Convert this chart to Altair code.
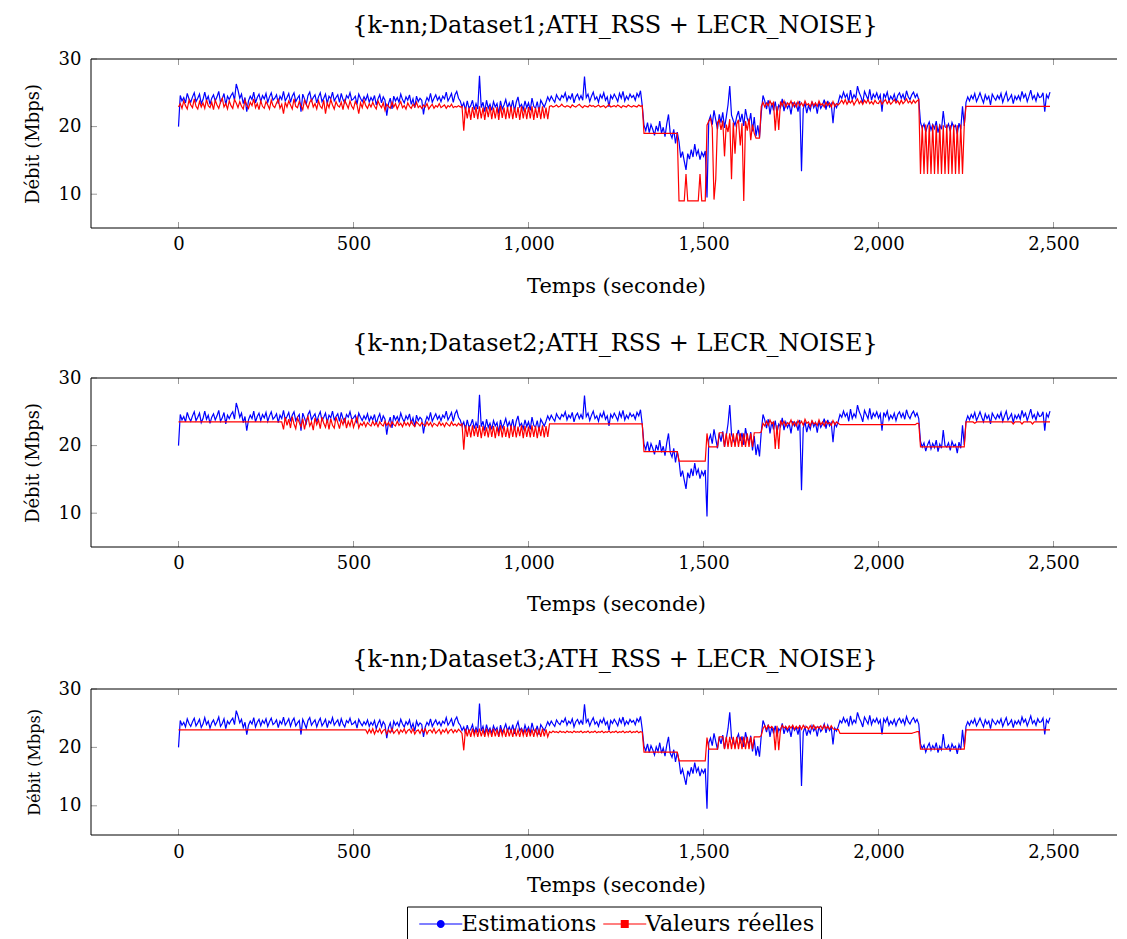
import altair as alt
import pandas as pd

# sampling instants of the series (seconds)
times = list(range(0, 2495, 5))

# estimated throughput (same curve in the three panels)
estimations = [
    20.0, 24.6, 23.8, 24.3, 23.5, 24.9, 24.1, 23.6, 24.4, 25.0,
    23.7, 24.2, 24.8, 23.4, 24.0, 25.1, 23.9, 24.5, 23.3, 24.2,
    24.7, 23.8, 24.4, 25.2, 23.6, 24.1, 24.9, 23.2, 24.5, 24.0,
    24.6, 25.0, 23.9, 26.3, 25.4, 24.2, 24.8, 23.4, 24.3, 22.2,
    23.8, 24.5, 24.0, 25.1, 23.5, 24.3, 24.8, 23.7, 24.6, 24.1,
    24.9, 23.6, 24.4, 25.0, 23.9, 24.2, 24.7, 23.4, 24.5, 24.0,
    25.2, 23.8, 24.3, 24.9, 23.6, 24.5, 25.0, 23.7, 24.2, 24.6,
    22.2, 24.8, 24.1, 23.3, 24.6, 25.1, 23.8, 24.3, 24.7, 23.5,
    24.4, 25.0, 23.7, 24.2, 24.8, 23.4, 24.5, 24.1, 25.1, 23.8,
    24.3, 24.7, 23.6, 24.9, 24.0, 23.5, 24.6, 24.2, 25.0, 23.9,
    24.1, 24.5, 23.3, 24.8, 24.2, 23.7, 24.4, 23.9, 24.7, 23.6,
    24.3, 23.8, 24.6, 23.2, 24.1, 24.7, 23.5, 24.4, 23.9, 21.6,
    23.4, 24.2, 22.6, 24.5, 23.8, 24.3, 23.6, 24.8, 24.0, 23.5,
    24.4, 23.9, 24.7, 23.3, 24.1, 22.8, 24.5, 23.7, 24.2, 23.9,
    21.8, 23.5, 24.3, 23.8, 24.9, 23.6, 24.2, 24.7, 23.9, 24.4,
    23.7, 24.5, 24.1, 25.1, 23.8, 24.3, 24.9, 23.6, 24.7, 25.2,
    24.2, 23.8, 22.9, 23.5, 22.4, 23.8, 22.7, 23.1, 23.9, 22.5,
    23.4, 22.6, 27.5, 22.8, 23.6, 22.2, 23.9, 22.7, 23.3, 22.4,
    23.7, 22.9, 23.4, 21.9, 23.8, 22.6, 23.2, 24.0, 22.8, 23.5,
    22.7, 23.9, 22.3, 23.6, 24.4, 22.9, 23.3, 22.5, 23.8, 22.8,
    23.5, 22.4, 24.2, 23.0, 22.7, 23.7, 22.2, 23.9, 23.4, 22.9,
    23.6, 24.4, 23.8, 24.5, 24.0, 23.6, 24.7, 24.2, 23.9, 24.6,
    24.3, 25.0, 23.8, 24.5, 24.1, 24.9, 23.5, 24.4, 24.8, 24.0,
    24.6, 23.9, 27.4, 24.3, 24.8, 23.7, 24.5, 25.1, 24.0, 24.4,
    23.6, 24.7, 24.2, 25.0, 23.9, 24.4, 22.9, 24.6, 24.1, 24.8,
    24.3, 23.7, 24.9, 24.2, 25.2, 23.8, 24.5, 24.0, 24.8, 24.3,
    24.6, 23.9, 24.9, 24.4, 25.3, 23.1, 20.2, 19.4, 20.6, 19.1,
    20.3, 19.6, 18.7, 20.1, 19.3, 20.8, 19.0, 19.9, 18.5, 20.4,
    21.8, 19.0, 18.3, 19.6, 17.5, 19.2, 17.8, 15.4, 16.3, 14.9,
    13.6, 16.0, 15.2, 16.6, 15.5, 17.4, 15.8, 16.5, 15.1, 16.2,
    15.6, 16.4, 9.5, 20.8, 21.6, 20.3, 22.4, 21.0, 19.6, 21.8,
    20.6, 22.1, 19.8, 21.4, 23.2, 26.0, 21.7, 20.9, 20.2, 21.5,
    22.3, 20.7, 21.9, 20.1, 22.6, 21.2, 20.5, 22.0, 19.3, 21.4,
    18.6, 20.2, 18.4, 22.0, 24.6, 23.8, 22.6, 23.9, 21.8, 23.5,
    22.4, 23.7, 21.9, 23.2, 22.8, 24.1, 22.3, 23.5, 22.7, 23.3,
    21.8, 23.6, 22.9, 23.4, 22.2, 23.8, 13.4, 22.6, 23.5, 22.0,
    23.1, 22.4, 23.7, 22.8, 23.4, 21.9, 23.6, 22.7, 23.2, 24.0,
    22.5, 23.8, 22.9, 23.4, 20.5, 23.3, 22.8, 23.6, 24.6, 24.2,
    25.1, 24.3, 24.8, 23.6, 25.4, 24.0, 24.7, 24.2, 26.0, 25.0,
    24.4, 23.5, 25.2, 24.6, 24.0, 25.5, 23.9, 24.8, 24.3, 25.0,
    24.1, 24.7, 22.2, 24.9, 24.3, 25.1, 23.8, 24.5, 24.0, 24.8,
    23.7, 24.6, 25.0, 24.2, 24.8, 23.9, 25.3, 24.4, 24.0, 24.7,
    25.1, 24.3, 24.8, 24.0, 20.6, 19.8, 20.4, 19.2, 20.1, 20.7,
    19.5, 20.3, 19.7, 20.8, 19.1, 20.2, 19.6, 22.3, 20.0, 19.8,
    20.4, 19.3, 20.6, 19.9, 20.2, 18.9, 20.5, 19.6, 23.0, 20.1,
    23.6, 24.4, 23.8, 24.6, 24.1, 24.9, 23.7, 24.3, 25.0, 24.2,
    23.5, 24.7, 24.0, 24.5, 23.2, 24.8, 24.3, 23.9, 24.6, 24.1,
    24.9, 23.6, 24.4, 25.1, 23.8, 24.2, 24.7, 23.4, 24.5, 24.0,
    24.6, 23.9, 25.2, 24.3, 24.8, 23.7, 24.5, 25.4, 24.1, 24.6,
    23.8, 24.9, 24.3, 24.4, 25.0, 22.2, 24.7, 24.2, 25.1,
]

# real throughput, Dataset1
reelles_d1 = [
    22.9, 23.4, 22.7, 23.8, 23.1, 22.6, 23.9, 23.2, 22.8, 24.1,
    23.0, 22.6, 23.7, 22.9, 23.5, 22.7, 24.0, 23.1, 22.8, 23.6,
    22.5, 23.9, 23.2, 22.7, 23.6, 24.2, 22.9, 23.4, 22.6, 23.8,
    23.1, 22.7, 24.0, 23.5, 22.8, 23.7, 23.0, 22.6, 23.9, 23.2,
    22.7, 23.6, 23.1, 24.1, 22.8, 23.4, 22.5, 23.8, 23.0, 22.7,
    23.7, 23.2, 22.6, 23.9, 23.1, 22.8, 23.5, 24.0, 22.7, 23.3,
    21.9, 23.6, 22.9, 23.8, 23.2, 22.6, 24.1, 23.0, 22.8, 23.7,
    23.1, 22.5, 23.9, 23.3, 22.7, 23.6, 24.0, 22.9, 23.4, 22.6,
    23.8, 23.0, 22.7, 23.9, 21.9, 23.5, 22.8, 24.0, 23.2, 22.6,
    23.7, 23.1, 22.9, 23.6, 22.5, 23.9, 23.3, 22.7, 23.8, 23.0,
    22.6, 23.7, 23.2, 21.9, 23.5, 22.8, 23.9, 23.1, 22.7, 23.4,
    22.9, 23.6, 23.0, 22.6, 23.8, 23.2, 22.8, 23.5, 22.4, 23.3,
    23.0, 22.7, 23.6, 22.9, 23.4, 22.6, 23.2, 23.7, 22.8, 23.1,
    22.6, 23.5, 23.0, 22.7, 23.3, 22.9, 23.6, 22.8, 23.1, 22.7,
    23.2, 22.9, 23.4, 22.6, 23.0, 23.3, 22.7, 23.1, 22.9, 23.4,
    22.8, 23.0, 23.2, 22.7, 23.1, 22.9, 23.3, 22.8, 23.0, 22.9,
    23.1, 22.9, 23.0, 19.4, 22.9, 21.2, 22.8, 21.0, 22.9, 21.3,
    22.9, 21.1, 23.0, 21.2, 22.8, 21.0, 22.9, 21.4, 23.0, 21.1,
    22.8, 21.2, 22.9, 21.0, 23.1, 21.3, 22.8, 21.1, 22.9, 21.2,
    23.0, 21.1, 22.8, 21.3, 22.9, 21.0, 23.0, 21.2, 22.8, 21.1,
    22.9, 21.2, 23.0, 21.0, 22.8, 21.3, 22.9, 21.1, 23.0, 21.2,
    22.8, 21.1, 23.0, 23.1, 22.9, 23.0, 23.2, 22.9, 23.0, 23.3,
    23.0, 22.9, 23.1, 23.0, 22.8, 23.2, 23.0, 22.9, 23.1, 23.3,
    23.0, 22.8, 23.1, 23.0, 22.9, 23.2, 23.0, 23.1, 22.9, 23.0,
    23.2, 22.9, 23.0, 23.1, 22.8, 23.0, 23.3, 22.9, 23.0, 23.1,
    22.9, 23.2, 23.0, 22.8, 23.1, 23.0, 22.9, 23.2, 23.0, 22.9,
    23.1, 23.0, 22.9, 23.2, 23.0, 23.1, 19.0, 19.0, 19.0, 19.0,
    19.0, 19.0, 19.0, 19.0, 19.0, 19.0, 19.0, 19.0, 19.0, 19.0,
    19.0, 19.0, 19.0, 19.0, 19.0, 19.0, 9.0, 9.0, 9.0, 9.0,
    13.0, 9.0, 9.0, 9.0, 9.0, 9.0, 9.0, 9.0, 13.0, 9.0,
    9.0, 9.0, 20.2, 20.8, 21.2, 19.8, 9.2, 12.2, 20.6, 21.0,
    19.5, 20.9, 15.6, 20.3, 19.2, 21.1, 12.2, 20.6, 16.0, 20.4,
    21.0, 17.2, 20.5, 9.0, 20.8, 19.4, 21.2, 18.0, 20.3, 19.0,
    18.3, 18.3, 18.3, 23.0, 23.6, 22.9, 23.5, 23.1, 23.8, 23.2,
    23.6, 19.4, 23.0, 19.5, 23.7, 23.1, 23.8, 22.9, 23.5, 23.2,
    23.8, 23.0, 23.6, 22.9, 23.7, 23.1, 23.5, 23.0, 23.8, 23.2,
    23.4, 22.9, 23.7, 23.1, 23.5, 23.0, 23.8, 23.2, 23.4, 22.9,
    23.6, 23.1, 23.5, 22.9, 23.7, 23.0, 23.4, 23.2, 23.5, 23.9,
    23.4, 24.0, 23.3, 23.8, 23.5, 23.9, 23.2, 23.7, 24.1, 23.4,
    23.8, 23.3, 23.9, 23.5, 24.0, 23.4, 23.7, 23.3, 23.9, 23.5,
    23.4, 23.9, 23.3, 23.7, 24.0, 23.4, 23.8, 23.3, 23.6, 24.0,
    23.5, 23.8, 23.3, 23.9, 23.4, 23.7, 24.1, 23.5, 23.8, 23.4,
    23.9, 23.5, 23.8, 24.0, 13.0, 20.2, 13.0, 20.3, 13.0, 20.2,
    13.0, 20.3, 13.0, 20.2, 13.0, 20.3, 13.0, 20.2, 13.0, 20.3,
    13.0, 20.2, 13.0, 20.3, 13.0, 20.2, 13.0, 20.3, 13.0, 20.2,
    23.0, 23.0, 23.0, 23.0, 23.0, 23.0, 23.0, 23.0, 23.0, 23.0,
    23.0, 23.0, 23.0, 23.0, 23.0, 23.0, 23.0, 23.0, 23.0, 23.0,
    23.0, 23.0, 23.0, 23.0, 23.0, 23.0, 23.0, 23.0, 23.0, 23.0,
    23.0, 23.0, 23.0, 23.0, 23.0, 23.0, 23.0, 23.0, 23.0, 23.0,
    23.0, 23.0, 23.0, 23.0, 23.0, 23.0, 23.0, 23.0, 23.0,
]

# real throughput, Dataset2
reelles_d2 = [
    23.5, 23.5, 23.5, 23.5, 23.5, 23.5, 23.5, 23.5, 23.5, 23.5,
    23.5, 23.5, 23.5, 23.5, 23.5, 23.5, 23.5, 23.5, 23.5, 23.5,
    23.5, 23.5, 23.5, 23.5, 23.5, 23.5, 23.5, 23.5, 23.5, 23.5,
    23.5, 23.5, 23.5, 23.5, 23.5, 23.5, 23.5, 23.5, 23.5, 23.5,
    23.5, 23.5, 23.5, 23.5, 23.5, 23.5, 23.5, 23.5, 23.5, 23.5,
    23.5, 23.5, 23.5, 23.5, 23.5, 23.5, 23.5, 23.5, 23.5, 23.5,
    22.4, 24.2, 23.0, 23.9, 22.6, 24.3, 23.2, 22.5, 24.1, 23.4,
    22.8, 24.0, 22.4, 23.7, 24.3, 22.9, 23.5, 22.3, 24.1, 23.1,
    23.8, 22.5, 24.2, 23.3, 22.7, 23.9, 22.4, 24.0, 23.0, 22.6,
    24.2, 23.4, 22.5, 23.8, 23.1, 24.1, 22.6, 23.6, 22.9, 24.0,
    22.7, 23.5, 24.2, 22.6, 23.3, 23.0, 23.5, 22.8, 23.4, 23.1,
    22.9, 23.6, 23.0, 23.4, 22.8, 23.5, 23.1, 22.9, 23.6, 23.0,
    23.4, 22.8, 23.5, 23.1, 22.9, 23.6, 23.0, 23.3, 22.8, 23.5,
    23.0, 23.4, 22.9, 23.6, 23.1, 22.8, 23.5, 23.2, 22.9, 23.4,
    23.1, 22.9, 23.5, 23.0, 23.4, 22.8, 23.3, 23.1, 22.9, 23.5,
    23.0, 23.3, 22.8, 23.4, 23.1, 22.9, 23.5, 23.0, 23.2, 22.9,
    23.3, 23.0, 23.2, 19.4, 23.0, 21.3, 22.9, 21.2, 23.0, 21.4,
    22.8, 21.3, 23.0, 21.1, 22.9, 21.4, 22.7, 21.2, 23.0, 21.3,
    22.9, 21.1, 22.8, 21.4, 23.0, 21.2, 22.9, 21.3, 22.7, 21.1,
    23.0, 21.3, 22.9, 21.2, 22.8, 21.4, 23.0, 21.1, 22.9, 21.3,
    22.8, 21.2, 23.0, 21.3, 22.9, 21.1, 22.8, 21.4, 23.0, 21.2,
    22.9, 21.3, 23.2, 23.2, 23.2, 23.2, 23.2, 23.2, 23.2, 23.2,
    23.2, 23.2, 23.2, 23.2, 23.2, 23.2, 23.2, 23.2, 23.2, 23.2,
    23.2, 23.2, 23.2, 23.2, 23.2, 23.2, 23.2, 23.2, 23.2, 23.2,
    23.2, 23.2, 23.2, 23.2, 23.2, 23.2, 23.2, 23.2, 23.2, 23.2,
    23.2, 23.2, 23.2, 23.2, 23.2, 23.2, 23.2, 23.2, 23.2, 23.2,
    23.2, 23.2, 23.2, 23.2, 23.2, 23.2, 19.1, 19.1, 19.1, 19.1,
    19.1, 19.1, 19.1, 19.1, 19.1, 19.1, 19.1, 19.1, 19.1, 19.1,
    19.1, 19.1, 19.1, 19.1, 19.1, 19.1, 17.7, 17.7, 17.7, 17.7,
    17.7, 17.7, 17.7, 17.7, 17.7, 17.7, 17.7, 17.7, 17.7, 17.7,
    17.7, 17.7, 21.8, 19.8, 19.8, 19.8, 19.8, 19.8, 19.8, 21.9,
    21.9, 21.9, 19.8, 21.8, 19.8, 21.8, 19.8, 21.8, 19.8, 21.8,
    19.8, 21.8, 19.8, 21.8, 19.8, 21.8, 19.8, 21.8, 19.8, 21.9,
    21.9, 21.9, 21.9, 22.0, 23.3, 22.9, 23.6, 23.0, 23.8, 23.2,
    23.5, 19.5, 23.0, 19.5, 23.7, 23.1, 23.6, 22.9, 23.4, 23.2,
    23.8, 23.0, 23.5, 22.9, 23.7, 23.2, 23.6, 23.0, 23.9, 23.3,
    23.5, 22.9, 23.7, 23.2, 23.4, 23.0, 23.8, 23.1, 23.5, 22.9,
    23.6, 23.2, 23.4, 23.0, 23.7, 23.1, 23.5, 23.3, 23.1, 23.1,
    23.1, 23.1, 23.1, 23.1, 23.1, 23.1, 23.1, 23.1, 23.1, 23.1,
    23.1, 23.1, 23.1, 23.1, 23.1, 23.1, 23.1, 23.1, 23.1, 23.1,
    23.1, 23.1, 23.1, 23.1, 23.1, 23.1, 23.1, 23.1, 23.1, 23.1,
    23.1, 23.1, 23.1, 23.1, 23.1, 23.1, 23.1, 23.1, 23.1, 23.1,
    23.1, 23.1, 23.3, 23.3, 19.8, 19.8, 19.8, 19.8, 19.8, 19.8,
    19.8, 19.8, 19.8, 19.8, 19.8, 19.8, 19.8, 19.8, 19.8, 19.8,
    19.8, 19.8, 19.8, 19.8, 19.8, 19.8, 19.8, 19.8, 19.8, 19.8,
    23.5, 23.5, 23.5, 23.5, 23.5, 23.3, 23.5, 23.5, 23.5, 23.5,
    23.5, 23.5, 23.5, 23.5, 23.5, 23.5, 23.5, 23.5, 23.5, 23.5,
    23.5, 23.5, 23.5, 23.5, 23.5, 23.5, 23.5, 23.2, 23.5, 23.5,
    23.5, 23.5, 23.2, 23.5, 23.5, 23.5, 23.5, 23.5, 23.2, 23.5,
    23.5, 23.5, 23.5, 23.5, 23.5, 23.5, 23.5, 23.5, 23.5,
]

# real throughput, Dataset3
reelles_d3 = [
    23.0, 23.0, 23.0, 23.0, 23.0, 23.0, 23.0, 23.0, 23.0, 23.0,
    23.0, 23.0, 23.0, 23.0, 23.0, 23.0, 23.0, 23.0, 23.0, 23.0,
    23.0, 23.0, 23.0, 23.0, 23.0, 23.0, 23.0, 23.0, 23.0, 23.0,
    23.0, 23.0, 23.0, 23.0, 23.0, 23.0, 23.0, 23.0, 23.0, 23.0,
    23.0, 23.0, 23.0, 23.0, 23.0, 23.0, 23.0, 23.0, 23.0, 23.0,
    23.0, 23.0, 23.0, 23.0, 23.0, 23.0, 23.0, 23.0, 23.0, 23.0,
    23.0, 23.0, 23.0, 23.0, 23.0, 23.0, 23.0, 23.0, 23.0, 23.0,
    23.0, 23.0, 23.0, 23.0, 23.0, 23.0, 23.0, 23.0, 23.0, 23.0,
    23.0, 23.0, 23.0, 23.0, 23.0, 23.0, 23.0, 23.0, 23.0, 23.0,
    23.0, 23.0, 23.0, 23.0, 23.0, 23.0, 23.0, 23.0, 23.0, 23.0,
    23.0, 23.0, 23.0, 23.0, 23.0, 23.0, 23.0, 23.0, 22.4, 23.1,
    22.5, 23.2, 22.3, 23.0, 22.6, 23.2, 22.4, 22.9, 23.1, 22.3,
    23.0, 22.5, 23.2, 22.4, 22.8, 23.1, 22.3, 23.0, 22.6, 23.2,
    22.4, 22.9, 23.1, 22.5, 23.2, 22.3, 22.8, 23.0, 22.4, 23.1,
    22.6, 23.2, 22.3, 22.9, 23.0, 22.5, 23.2, 22.4, 22.8, 23.1,
    22.3, 23.0, 22.6, 23.2, 22.4, 22.9, 23.1, 22.5, 23.0, 22.6,
    23.1, 22.8, 22.4, 19.5, 23.2, 21.9, 23.1, 21.8, 23.2, 22.0,
    23.1, 21.8, 23.2, 21.9, 23.0, 21.8, 23.2, 22.0, 23.1, 21.8,
    23.2, 21.9, 23.1, 21.8, 23.2, 22.0, 23.0, 21.8, 23.2, 21.9,
    23.1, 21.8, 23.2, 21.9, 23.0, 21.8, 23.2, 22.0, 23.1, 21.8,
    23.2, 21.9, 23.1, 21.8, 23.2, 22.0, 23.0, 21.8, 23.2, 21.9,
    23.1, 21.8, 22.7, 22.5, 22.8, 22.6, 22.7, 22.5, 22.8, 22.6,
    22.7, 22.5, 22.8, 22.6, 22.7, 22.5, 22.8, 22.6, 22.7, 22.6,
    22.8, 22.5, 22.7, 22.6, 22.8, 22.5, 22.7, 22.6, 22.8, 22.5,
    22.7, 22.6, 22.8, 22.5, 22.7, 22.6, 22.8, 22.5, 22.7, 22.6,
    22.8, 22.5, 22.7, 22.6, 22.8, 22.5, 22.7, 22.6, 22.8, 22.5,
    22.7, 22.6, 22.8, 22.5, 22.7, 22.6, 19.2, 19.2, 19.2, 19.2,
    19.2, 19.2, 19.2, 19.2, 19.2, 19.2, 19.2, 19.2, 19.2, 19.2,
    19.2, 19.2, 19.2, 19.2, 19.2, 19.2, 17.7, 17.7, 17.7, 17.7,
    17.7, 17.7, 17.7, 17.7, 17.7, 17.7, 17.7, 17.7, 17.7, 17.7,
    17.7, 17.7, 21.7, 19.7, 19.7, 19.7, 19.7, 19.7, 19.7, 21.8,
    21.8, 21.8, 19.7, 21.8, 19.7, 21.8, 19.7, 21.8, 19.7, 21.8,
    19.7, 21.8, 19.7, 21.8, 19.7, 21.8, 19.7, 21.8, 19.7, 21.8,
    21.8, 21.8, 21.8, 22.0, 23.2, 23.7, 23.1, 23.8, 23.3, 23.6,
    23.2, 19.5, 23.7, 19.5, 23.1, 23.8, 23.3, 23.6, 23.1, 23.7,
    23.3, 23.8, 23.1, 23.6, 23.2, 23.7, 23.1, 23.8, 23.3, 23.6,
    23.1, 23.7, 23.2, 23.8, 23.1, 23.6, 23.3, 23.7, 23.1, 23.8,
    23.2, 23.6, 23.1, 23.7, 23.2, 23.1, 23.1, 23.1, 22.4, 22.4,
    22.4, 22.4, 22.4, 22.4, 22.4, 22.4, 22.4, 22.4, 22.4, 22.4,
    22.4, 22.4, 22.4, 22.4, 22.4, 22.4, 22.4, 22.4, 22.4, 22.4,
    22.4, 22.4, 22.4, 22.4, 22.4, 22.4, 22.4, 22.4, 22.4, 22.4,
    22.4, 22.4, 22.4, 22.4, 22.4, 22.4, 22.4, 22.4, 22.4, 22.4,
    22.5, 22.6, 22.7, 22.7, 19.7, 19.7, 19.7, 19.7, 19.7, 19.7,
    19.7, 19.7, 19.7, 19.7, 19.7, 19.7, 19.7, 19.7, 19.7, 19.7,
    19.7, 19.7, 19.7, 19.7, 19.7, 19.7, 19.7, 19.7, 19.7, 19.7,
    23.0, 23.0, 23.0, 23.0, 23.0, 23.0, 23.0, 23.0, 23.0, 23.0,
    23.0, 23.0, 23.0, 23.0, 23.0, 23.0, 23.0, 23.0, 23.0, 23.0,
    23.0, 23.0, 23.0, 23.0, 23.0, 23.0, 23.0, 23.0, 23.0, 23.0,
    23.0, 23.0, 23.0, 23.0, 23.0, 23.0, 23.0, 23.0, 23.0, 23.0,
    23.0, 23.0, 23.0, 23.0, 23.0, 23.0, 23.0, 23.0, 23.0,
]

panel_titles = [
    "{k-nn;Dataset1;ATH_RSS + LECR_NOISE}",
    "{k-nn;Dataset2;ATH_RSS + LECR_NOISE}",
    "{k-nn;Dataset3;ATH_RSS + LECR_NOISE}",
]
series_names = ["Estimations", "Valeurs réelles"]
series_colors = ["#0000ff", "#ff0000"]
x_ticks = [0, 500, 1000, 1500, 2000, 2500]
y_ticks = [10, 20, 30]
x_title = "Temps (seconde)"
y_title = "Débit (Mbps)"

FONT = "DejaVu Serif"
FS = 18
W = 1026
X_DOM = [-250, -250 + W / 0.35]
Y_DOM = [5, 30]

BLUE_SYM = "M-1,-0.1H7.6V0.1H-1Z M4.1,0 A0.8,0.8 0 1,1 2.5,0 A0.8,0.8 0 1,1 4.1,0Z"
RED_SYM = "M-1,-0.1H7.6V0.1H-1Z M2.5,-0.8H4.1V0.8H2.5Z"


def panel(reel, title, h, label_pad, axis_title_pad, title_offset, y_title_size, legend=False):
    n = min(len(times), len(estimations), len(reel))
    df = pd.DataFrame({"t": times[:n], "est": estimations[:n], "reel": reel[:n]})
    xs = alt.Scale(domain=X_DOM, nice=False, zero=False)
    ys = alt.Scale(domain=Y_DOM, nice=False, zero=False)
    x_axis = alt.Axis(values=x_ticks, format=",d", title=x_title, ticks=False,
                      domain=False, grid=False, labelPadding=label_pad,
                      titlePadding=axis_title_pad, titleFontSize=21, titleX=525)
    y_axis = alt.Axis(values=y_ticks, title=y_title, ticks=False, domain=False,
                      grid=False, labelPadding=10, titlePadding=16,
                      titleFontSize=y_title_size)
    base = alt.Chart(df)
    blue = base.mark_line(color=series_colors[0], strokeWidth=1.2, clip=True).encode(
        x=alt.X("t:Q", scale=xs, axis=x_axis),
        y=alt.Y("est:Q", scale=ys, axis=y_axis),
    )
    red = base.mark_line(color=series_colors[1], strokeWidth=1.2, clip=True).encode(
        x=alt.X("t:Q", scale=xs, axis=x_axis),
        y=alt.Y("reel:Q", scale=ys, axis=y_axis),
    )
    tdf = pd.DataFrame({"xt": x_ticks})
    ydf = pd.DataFrame({"yt": y_ticks})
    fdf = pd.DataFrame({"k": [0]})
    tick_col = "#9a9a9a"
    top_ticks = alt.Chart(tdf).mark_rule(color=tick_col).encode(
        x=alt.X("xt:Q", scale=xs, axis=x_axis), y=alt.value(0), y2=alt.value(6))
    bot_ticks = alt.Chart(tdf).mark_rule(color=tick_col).encode(
        x=alt.X("xt:Q", scale=xs, axis=x_axis), y=alt.value(h), y2=alt.value(h - 6))
    left_ticks = alt.Chart(ydf).mark_rule(color=tick_col).encode(
        y=alt.Y("yt:Q", scale=ys, axis=y_axis), x=alt.value(0), x2=alt.value(6))
    # frame: top, bottom and left edges (the right edge is cut off in the original)
    frame_top = alt.Chart(fdf).mark_rule(color="black", strokeWidth=1).encode(
        x=alt.value(0), x2=alt.value(W), y=alt.value(0))
    frame_bot = alt.Chart(fdf).mark_rule(color="black", strokeWidth=1).encode(
        x=alt.value(0), x2=alt.value(W), y=alt.value(h))
    frame_left = alt.Chart(fdf).mark_rule(color="black", strokeWidth=1).encode(
        x=alt.value(0), y=alt.value(0), y2=alt.value(h))
    layers = [blue, red, top_ticks, bot_ticks, left_ticks, frame_top, frame_bot, frame_left]
    if legend:
        ldf = pd.DataFrame({"serie": series_names, "t": [None, None], "v": [None, None]})
        leg = alt.Legend(title=None, orient="none", legendX=316, legendY=847.5,
                         direction="horizontal", labelFont=FONT, labelFontSize=22.5,
                         labelColor="black", labelLimit=400, symbolSize=100,
                         symbolStrokeWidth=0, symbolOpacity=1, labelOffset=26,
                         columnPadding=-9, padding=6,
                         strokeColor="black", fillColor="white")
        pts = alt.Chart(ldf).mark_point(filled=True, size=100, opacity=1).encode(
            x=alt.X("t:Q", scale=xs, axis=x_axis),
            y=alt.Y("v:Q", scale=ys, axis=y_axis),
            color=alt.Color("serie:N", scale=alt.Scale(domain=series_names, range=series_colors), legend=leg),
            shape=alt.Shape("serie:N", scale=alt.Scale(domain=series_names, range=[BLUE_SYM, RED_SYM]), legend=leg),
        )
        layers.append(pts)
    return alt.layer(*layers).properties(
        width=W, height=h,
        title=alt.TitleParams(title, font=FONT, fontSize=24, fontWeight="normal",
                              color="black", offset=title_offset, dx=11),
    )


p1 = panel(reelles_d1, panel_titles[0], 169, 7, 22.5, 12.5, 18)
p2 = panel(reelles_d2, panel_titles[1], 169, 7, 21, 13, 18)
p3 = panel(reelles_d3, panel_titles[2], 146, 8, 13, 8, 16, legend=True)

chart = alt.vconcat(
    alt.vconcat(p1, p2, spacing=35), p3, spacing=34,
    padding={"left": 16, "top": 5, "right": 0, "bottom": 20},
).configure_view(
    stroke=None
).configure_axis(
    labelFont=FONT, labelFontSize=FS, labelColor="black",
    titleFont=FONT, titleFontSize=FS, titleColor="black", titleFontWeight="normal",
)

chart.save("out.html", embed_options={"renderer": "svg", "actions": False})
